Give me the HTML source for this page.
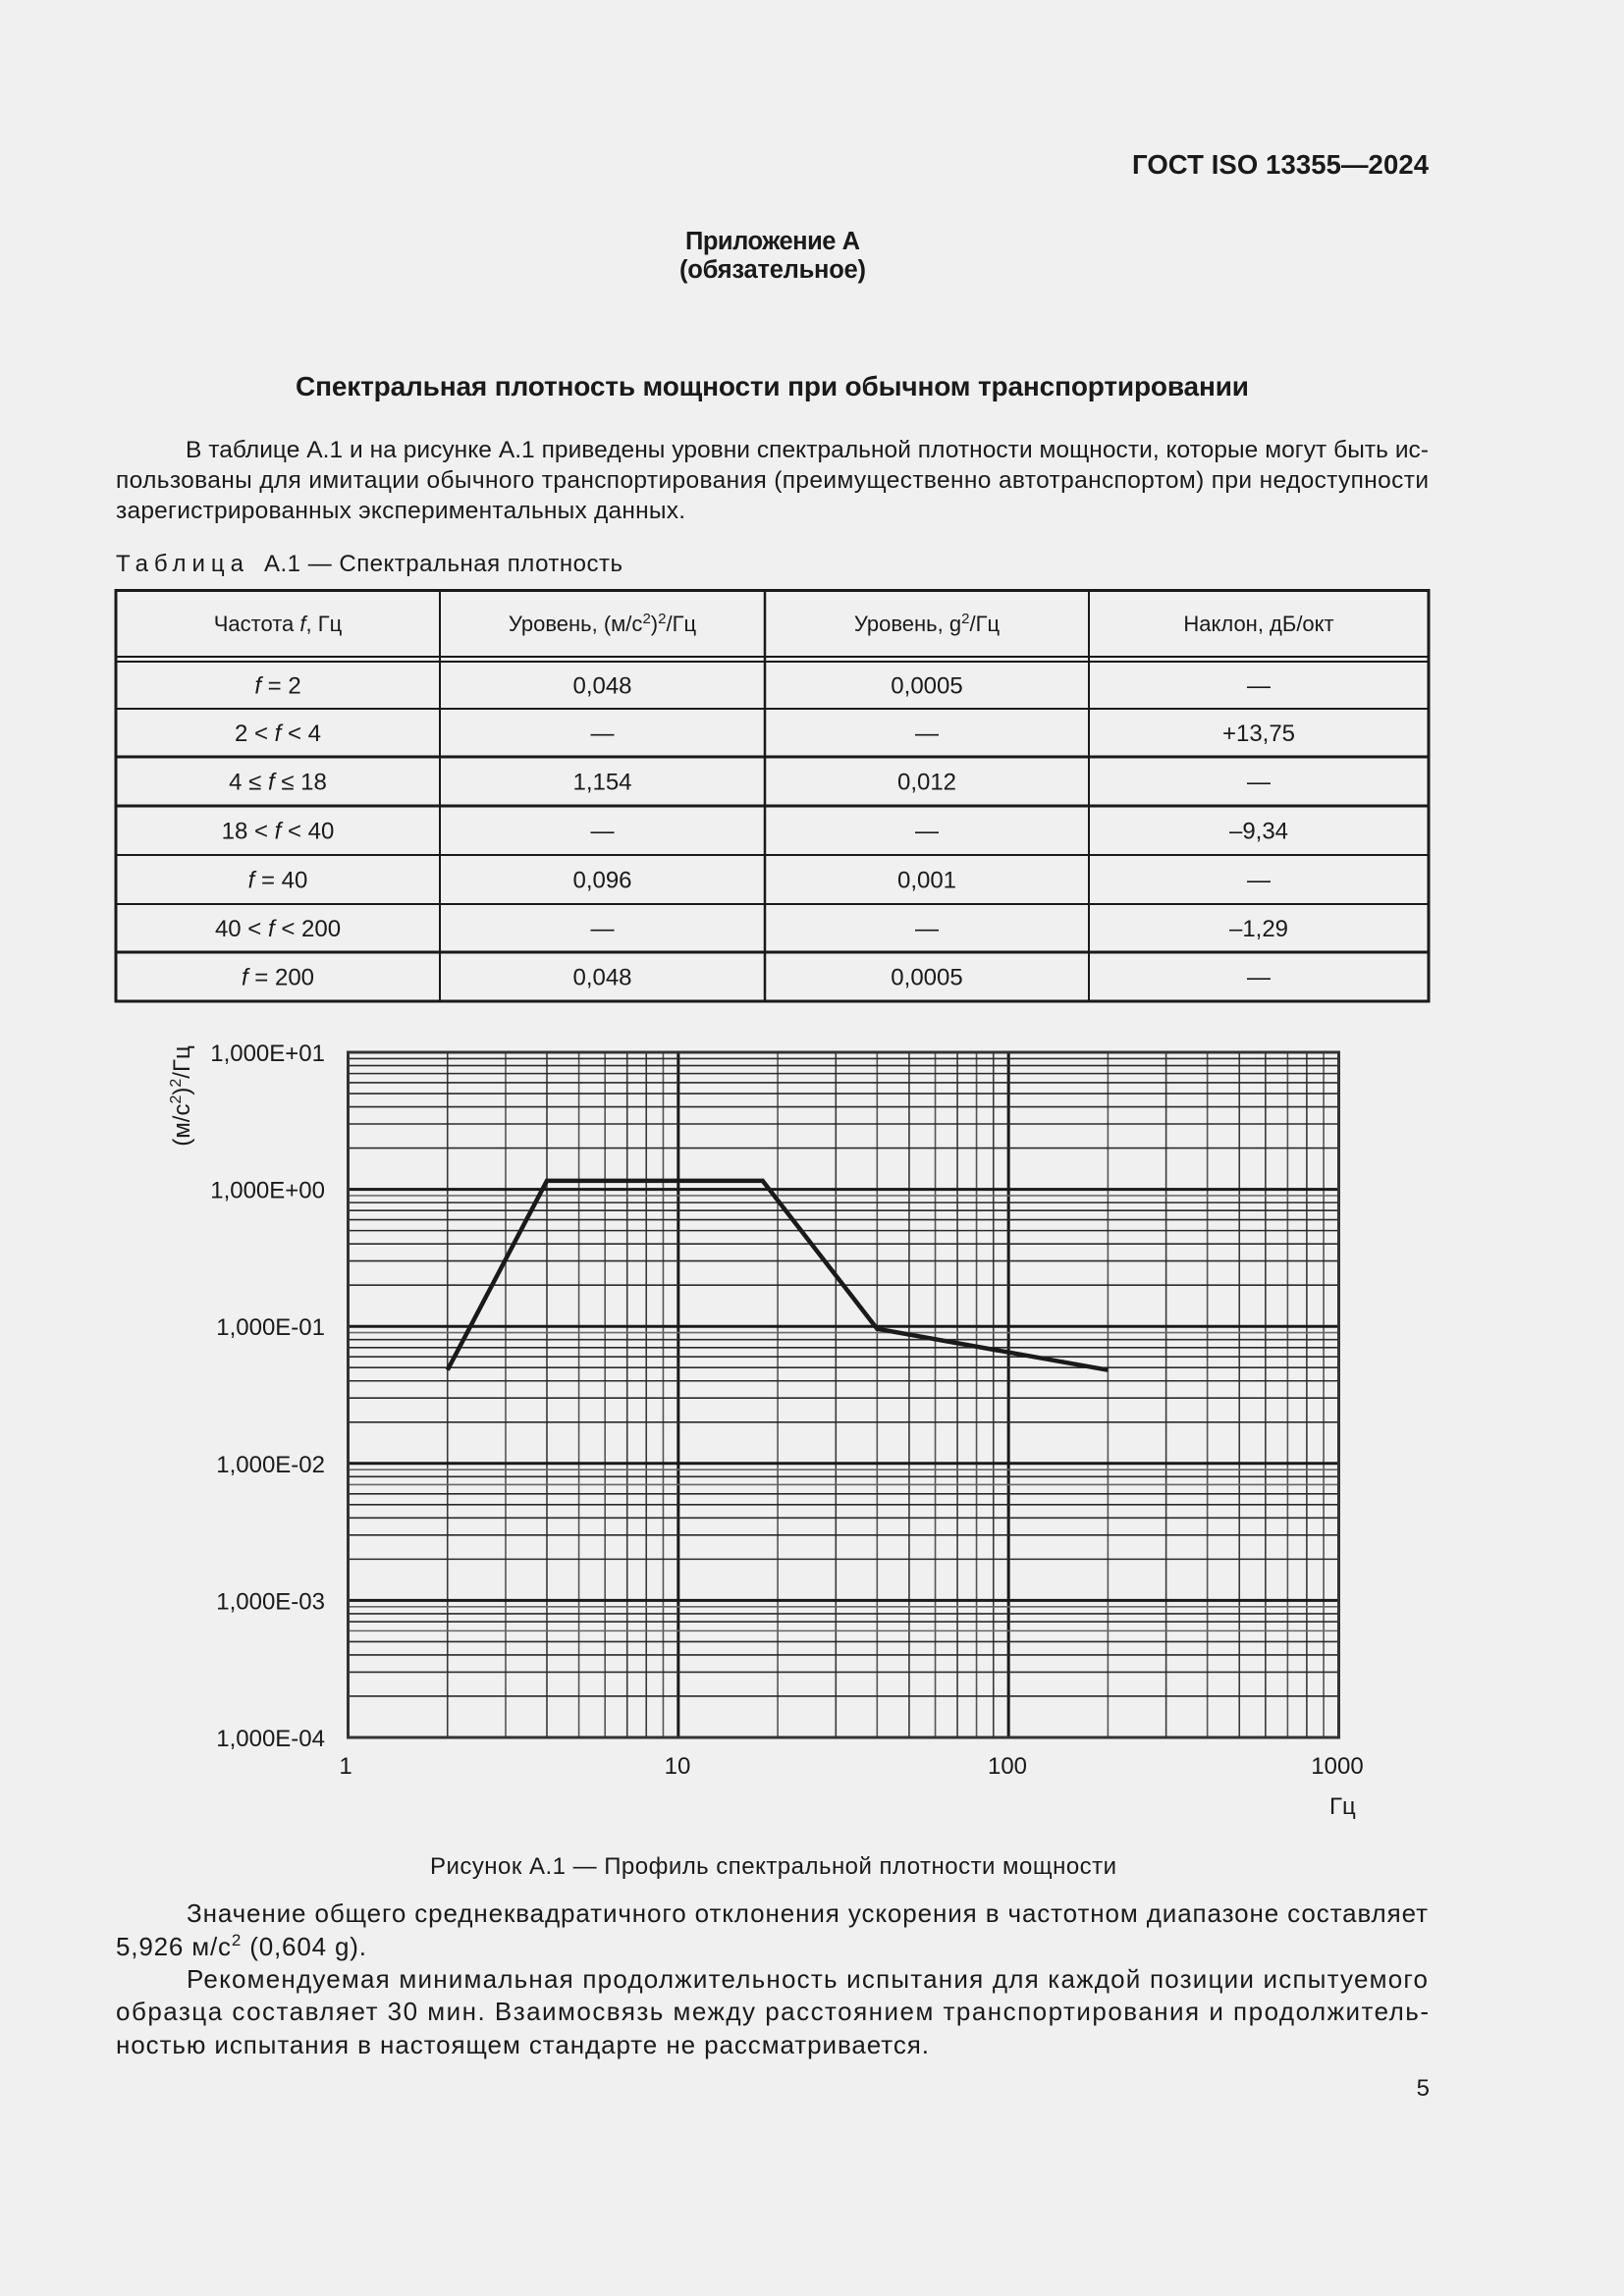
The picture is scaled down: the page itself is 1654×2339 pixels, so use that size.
<!DOCTYPE html>
<html>
<head>
<meta charset="utf-8">
<style>
html,body{margin:0;padding:0;background:#f0f0f0;}
svg{display:block;}
text{font-family:"Liberation Sans","DejaVu Sans",sans-serif;fill:#1a1a1a;}
.b{font-weight:bold;}
</style>
</head>
<body>
<svg width="1654" height="2339" viewBox="0 0 1654 2339" xmlns="http://www.w3.org/2000/svg">
<rect x="0" y="0" width="1654" height="2339" fill="#f0f0f0"/>

<!-- Header -->
<text class="b" x="1455" y="177" font-size="27.5" text-anchor="end" textLength="302">ГОСТ ISO 13355—2024</text>
<text class="b" x="787" y="254" font-size="25.5" text-anchor="middle" textLength="178">Приложение А</text>
<text class="b" x="787" y="283" font-size="25.5" text-anchor="middle" textLength="190">(обязательное)</text>
<text class="b" x="301" y="403" font-size="28" textLength="971">Спектральная плотность мощности при обычном транспортировании</text>

<!-- Paragraph 1 -->
<text x="189" y="466" font-size="24.5" textLength="1266">В таблице А.1 и на рисунке А.1 приведены уровни спектральной плотности мощности, которые могут быть ис-</text>
<text x="118" y="497" font-size="24.5" textLength="1337">пользованы для имитации обычного транспортирования (преимущественно автотранспортом) при недоступности</text>
<text x="118" y="528" font-size="24.5" textLength="580">зарегистрированных экспериментальных данных.</text>

<text x="118" y="582" font-size="24" textLength="130">Таблица</text>
<text x="269" y="582" font-size="24" textLength="365">А.1 — Спектральная плотность</text>

<!-- Table -->
<g stroke="#1a1a1a" fill="none">
  <rect x="118" y="601.5" width="1337" height="418.5" stroke-width="3"/>
  <line x1="448" y1="601" x2="448" y2="1020" stroke-width="2"/>
  <line x1="779" y1="601" x2="779" y2="1020" stroke-width="2.5"/>
  <line x1="1109" y1="601" x2="1109" y2="1020" stroke-width="2"/>
  <line x1="118" y1="669" x2="1455" y2="669" stroke-width="2"/>
  <line x1="118" y1="674" x2="1455" y2="674" stroke-width="2"/>
  <line x1="118" y1="722" x2="1455" y2="722" stroke-width="2"/>
  <line x1="118" y1="771" x2="1455" y2="771" stroke-width="3"/>
  <line x1="118" y1="821" x2="1455" y2="821" stroke-width="3"/>
  <line x1="118" y1="871" x2="1455" y2="871" stroke-width="2"/>
  <line x1="118" y1="921" x2="1455" y2="921" stroke-width="2"/>
  <line x1="118" y1="970" x2="1455" y2="970" stroke-width="3"/>
</g>
<g font-size="22" text-anchor="middle">
  <text x="283" y="643">Частота <tspan font-style="italic">f</tspan>, Гц</text>
  <text x="613.5" y="643">Уровень, (м/с<tspan dy="-8" font-size="15">2</tspan><tspan dy="8">)</tspan><tspan dy="-8" font-size="15">2</tspan><tspan dy="8">/Гц</tspan></text>
  <text x="944" y="643">Уровень, g<tspan dy="-8" font-size="15">2</tspan><tspan dy="8">/Гц</tspan></text>
  <text x="1282" y="643">Наклон, дБ/окт</text>
</g>
<g font-size="24" text-anchor="middle">
  <text x="283" y="706.5"><tspan font-style="italic">f</tspan> = 2</text>
  <text x="613.5" y="706.5">0,048</text>
  <text x="944" y="706.5">0,0005</text>
  <text x="1282" y="706.5">—</text>

  <text x="283" y="755">2 &lt; <tspan font-style="italic">f</tspan> &lt; 4</text>
  <text x="613.5" y="755">—</text>
  <text x="944" y="755">—</text>
  <text x="1282" y="755">+13,75</text>

  <text x="283" y="804.5">4 ≤ <tspan font-style="italic">f</tspan> ≤ 18</text>
  <text x="613.5" y="804.5">1,154</text>
  <text x="944" y="804.5">0,012</text>
  <text x="1282" y="804.5">—</text>

  <text x="283" y="854.5">18 &lt; <tspan font-style="italic">f</tspan> &lt; 40</text>
  <text x="613.5" y="854.5">—</text>
  <text x="944" y="854.5">—</text>
  <text x="1282" y="854.5">–9,34</text>

  <text x="283" y="904.5"><tspan font-style="italic">f</tspan> = 40</text>
  <text x="613.5" y="904.5">0,096</text>
  <text x="944" y="904.5">0,001</text>
  <text x="1282" y="904.5">—</text>

  <text x="283" y="954">40 &lt; <tspan font-style="italic">f</tspan> &lt; 200</text>
  <text x="613.5" y="954">—</text>
  <text x="944" y="954">—</text>
  <text x="1282" y="954">–1,29</text>

  <text x="283" y="1003.5"><tspan font-style="italic">f</tspan> = 200</text>
  <text x="613.5" y="1003.5">0,048</text>
  <text x="944" y="1003.5">0,0005</text>
  <text x="1282" y="1003.5">—</text>
</g>

<!-- Chart grid: vertical minor lines -->
<g stroke="#3a3a3a" stroke-width="1.6">
  <line x1="455.75" y1="1072" x2="455.75" y2="1770"/>
  <line x1="514.97" y1="1072" x2="514.97" y2="1770" stroke="#555"/>
  <line x1="556.99" y1="1072" x2="556.99" y2="1770"/>
  <line x1="589.58" y1="1072" x2="589.58" y2="1770" stroke="#555"/>
  <line x1="616.21" y1="1072" x2="616.21" y2="1770" stroke="#555"/>
  <line x1="638.73" y1="1072" x2="638.73" y2="1770"/>
  <line x1="658.23" y1="1072" x2="658.23" y2="1770"/>
  <line x1="675.44" y1="1072" x2="675.44" y2="1770" stroke="#555"/>

  <line x1="792.08" y1="1072" x2="792.08" y2="1770" stroke="#555"/>
  <line x1="851.30" y1="1072" x2="851.30" y2="1770"/>
  <line x1="893.32" y1="1072" x2="893.32" y2="1770" stroke="#555"/>
  <line x1="925.91" y1="1072" x2="925.91" y2="1770"/>
  <line x1="952.54" y1="1072" x2="952.54" y2="1770" stroke="#555"/>
  <line x1="975.06" y1="1072" x2="975.06" y2="1770"/>
  <line x1="994.56" y1="1072" x2="994.56" y2="1770" stroke="#555"/>
  <line x1="1011.77" y1="1072" x2="1011.77" y2="1770"/>

  <line x1="1128.41" y1="1072" x2="1128.41" y2="1770" stroke="#555"/>
  <line x1="1187.63" y1="1072" x2="1187.63" y2="1770"/>
  <line x1="1229.65" y1="1072" x2="1229.65" y2="1770" stroke="#555"/>
  <line x1="1262.24" y1="1072" x2="1262.24" y2="1770"/>
  <line x1="1288.87" y1="1072" x2="1288.87" y2="1770"/>
  <line x1="1311.39" y1="1072" x2="1311.39" y2="1770" stroke="#555"/>
  <line x1="1330.89" y1="1072" x2="1330.89" y2="1770"/>
  <line x1="1348.10" y1="1072" x2="1348.10" y2="1770" stroke="#555"/>
</g>
<!-- vertical decade lines -->
<g stroke="#1a1a1a" stroke-width="3">
  <line x1="690.83" y1="1072" x2="690.83" y2="1770"/>
  <line x1="1027.16" y1="1072" x2="1027.16" y2="1770"/>
</g>

<!-- horizontal minor lines -->
<g stroke="#2a2a2a" stroke-width="1.6">
  <line x1="354.5" y1="1078.39" x2="1363.5" y2="1078.39"/>
  <line x1="354.5" y1="1085.53" x2="1363.5" y2="1085.53"/>
  <line x1="354.5" y1="1093.62" x2="1363.5" y2="1093.62"/>
  <line x1="354.5" y1="1102.97" x2="1363.5" y2="1102.97"/>
  <line x1="354.5" y1="1114.02" x2="1363.5" y2="1114.02"/>
  <line x1="354.5" y1="1127.55" x2="1363.5" y2="1127.55"/>
  <line x1="354.5" y1="1144.99" x2="1363.5" y2="1144.99"/>
  <line x1="354.5" y1="1169.58" x2="1363.5" y2="1169.58"/>

  <line x1="354.5" y1="1217.99" x2="1363.5" y2="1217.99" stroke="#666"/>
  <line x1="354.5" y1="1225.13" x2="1363.5" y2="1225.13"/>
  <line x1="354.5" y1="1233.22" x2="1363.5" y2="1233.22"/>
  <line x1="354.5" y1="1242.57" x2="1363.5" y2="1242.57"/>
  <line x1="354.5" y1="1253.62" x2="1363.5" y2="1253.62"/>
  <line x1="354.5" y1="1267.15" x2="1363.5" y2="1267.15"/>
  <line x1="354.5" y1="1284.59" x2="1363.5" y2="1284.59"/>
  <line x1="354.5" y1="1309.18" x2="1363.5" y2="1309.18"/>

  <line x1="354.5" y1="1357.59" x2="1363.5" y2="1357.59" stroke="#666"/>
  <line x1="354.5" y1="1364.73" x2="1363.5" y2="1364.73"/>
  <line x1="354.5" y1="1372.82" x2="1363.5" y2="1372.82"/>
  <line x1="354.5" y1="1382.17" x2="1363.5" y2="1382.17"/>
  <line x1="354.5" y1="1393.22" x2="1363.5" y2="1393.22"/>
  <line x1="354.5" y1="1406.75" x2="1363.5" y2="1406.75"/>
  <line x1="354.5" y1="1424.19" x2="1363.5" y2="1424.19"/>
  <line x1="354.5" y1="1448.78" x2="1363.5" y2="1448.78"/>

  <line x1="354.5" y1="1497.19" x2="1363.5" y2="1497.19" stroke="#666"/>
  <line x1="354.5" y1="1504.33" x2="1363.5" y2="1504.33"/>
  <line x1="354.5" y1="1512.42" x2="1363.5" y2="1512.42" stroke="#666"/>
  <line x1="354.5" y1="1521.77" x2="1363.5" y2="1521.77"/>
  <line x1="354.5" y1="1532.82" x2="1363.5" y2="1532.82"/>
  <line x1="354.5" y1="1546.35" x2="1363.5" y2="1546.35"/>
  <line x1="354.5" y1="1563.79" x2="1363.5" y2="1563.79"/>
  <line x1="354.5" y1="1588.38" x2="1363.5" y2="1588.38"/>

  <line x1="354.5" y1="1636.79" x2="1363.5" y2="1636.79" stroke="#666"/>
  <line x1="354.5" y1="1643.93" x2="1363.5" y2="1643.93"/>
  <line x1="354.5" y1="1652.02" x2="1363.5" y2="1652.02"/>
  <line x1="354.5" y1="1661.37" x2="1363.5" y2="1661.37" stroke="#666"/>
  <line x1="354.5" y1="1672.42" x2="1363.5" y2="1672.42"/>
  <line x1="354.5" y1="1685.95" x2="1363.5" y2="1685.95"/>
  <line x1="354.5" y1="1703.39" x2="1363.5" y2="1703.39"/>
  <line x1="354.5" y1="1727.98" x2="1363.5" y2="1727.98"/>
</g>
<!-- horizontal decade lines -->
<g stroke="#1a1a1a" stroke-width="3">
  <line x1="354.5" y1="1211.6" x2="1363.5" y2="1211.6"/>
  <line x1="354.5" y1="1351.2" x2="1363.5" y2="1351.2"/>
  <line x1="354.5" y1="1490.8" x2="1363.5" y2="1490.8"/>
  <line x1="354.5" y1="1630.4" x2="1363.5" y2="1630.4"/>
</g>
<!-- plot border -->
<rect x="354.5" y="1072" width="1009" height="698" fill="none" stroke="#333" stroke-width="3"/>

<!-- curve -->
<polyline points="455.75,1395.7 556.99,1202.9 776.69,1202.9 893.32,1353.7 1128.41,1395.7" fill="none" stroke="#1a1a1a" stroke-width="4.5" stroke-linejoin="miter"/>

<!-- y labels -->
<g font-size="24" text-anchor="end">
  <text x="331" y="1081">1,000E+01</text>
  <text x="331" y="1220.6">1,000E+00</text>
  <text x="331" y="1360.2">1,000E-01</text>
  <text x="331" y="1499.8">1,000E-02</text>
  <text x="331" y="1639.4">1,000E-03</text>
  <text x="331" y="1779">1,000E-04</text>
</g>
<!-- x labels -->
<g font-size="24" text-anchor="middle">
  <text x="352" y="1807">1</text>
  <text x="690" y="1807">10</text>
  <text x="1026" y="1807">100</text>
  <text x="1362" y="1807">1000</text>
</g>
<text x="1354" y="1848" font-size="24">Гц</text>
<text transform="translate(193,1116.5) rotate(-90)" font-size="24" text-anchor="middle">(м/с<tspan dy="-9" font-size="16">2</tspan><tspan dy="9">)</tspan><tspan dy="-9" font-size="16">2</tspan><tspan dy="9">/Гц</tspan></text>

<!-- caption -->
<text x="438" y="1909" font-size="24" textLength="699">Рисунок А.1 — Профиль спектральной плотности мощности</text>

<!-- Paragraph 2 -->
<text x="190" y="1958" font-size="26" textLength="1264">Значение общего среднеквадратичного отклонения ускорения в частотном диапазоне составляет</text>
<text x="118" y="1992" font-size="26" textLength="255">5,926 м/с<tspan dy="-10" font-size="17">2</tspan><tspan dy="10"> (0,604 g).</tspan></text>
<text x="190" y="2025" font-size="26" textLength="1264">Рекомендуемая минимальная продолжительность испытания для каждой позиции испытуемого</text>
<text x="118" y="2058" font-size="26" textLength="1337">образца составляет 30 мин.  Взаимосвязь  между расстоянием транспортирования и продолжитель-</text>
<text x="118" y="2092" font-size="26" textLength="828">ностью испытания в настоящем стандарте не рассматривается.</text>

<text x="1456" y="2135" font-size="24" text-anchor="end">5</text>
</svg>
</body>
</html>
